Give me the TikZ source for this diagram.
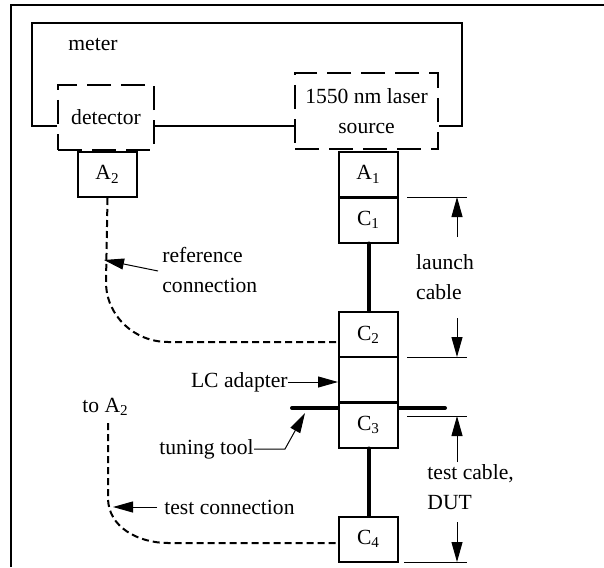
\documentclass[tikz,border=0pt]{standalone}
\usepackage{fontspec}
\setmainfont{Liberation Serif}
\usetikzlibrary{arrows.meta,calc}
\begin{document}
\begin{tikzpicture}[x=0.5pt,y=-0.5pt,
 every node/.style={font=\fontsize{10.8}{15}\selectfont, inner sep=0pt},
 port/.style={draw, line width=1pt, minimum width=29.5pt, minimum height=22.5pt},
 unitbox/.style={draw, line width=1.2pt, dash pattern=on 12pt off 5pt, align=center},
 frameline/.style={line width=1pt},
 conn/.style={line width=1pt, dash pattern=on 3.5pt off 2pt},
 cable/.style={line width=2pt, line cap=round},
 dimline/.style={line width=0.5pt},
 arr/.style={line width=0.5pt, -{Triangle[length=10pt,width=5.5pt]}},
]
\useasboundingbox (0,0) rectangle (604,567);
% outer frame
\draw[frameline] (11,567) -- (11,5) -- (604,5);

% units
\node[unitbox, minimum width=48pt, minimum height=32.5pt] (det) at (106,117.5) {detector};
\node[unitbox, minimum width=71.5pt, minimum height=38pt] (laser) at (366.5,111) {1550 nm laser\\source};

% meter outline
\coordinate (mb) at (0,126);
\draw[frameline] (det.west |- mb) -- (32,126) -- (32,23) -- (462,23) -- (462,126) -- (laser.east |- mb);
\draw[frameline] (det.east |- mb) -- (laser.west |- mb);
\node[anchor=west] (meter) at (68,45) {meter};

% ports
\node[port] (A2) at (107.5,174.5) {A\textsubscript{2}};
\node[port] (A1) at (368.5,174.5) {A\textsubscript{1}};
\node[port] (C1) at (368.5,220) {C\textsubscript{1}};
\node[port] (C2) at (368.5,334.5) {C\textsubscript{2}};
\node[port] (ad) at (368.5,379.5) {};
\node[port] (C3) at (368.5,425) {C\textsubscript{3}};
\node[port] (C4) at (368.5,539) {C\textsubscript{4}};

% cables
\draw[cable] (C1.south) -- (C2.north);
\draw[cable] (C3.south) -- (C4.north);

% tuning tool
\coordinate (tt) at (0,408);
\draw[cable] (292,408) -- (C3.west |- tt);
\draw[cable] (C3.east |- tt) -- (445,408);

% reference connection
\draw[conn] (A2.south) -- (106,282) to[out=-90,in=180] (168,342) -- (C2.west |- 0,342);
\node[anchor=west, align=left] (reflabel) at (162,270) {reference\\connection};
\draw[arr] (158,271) -- (104,260);

% test connection
\node[anchor=west] (toA2) at (82,407) {to A\textsubscript{2}};
\coordinate (tstart) at (108,423);
\draw[conn] (tstart) -- (108,498) to[out=-90,in=180] (168,543) -- (C4.west |- 0,543);
\node[anchor=west] (testlabel) at (164,507) {test connection};
\draw[arr] (157,507) -- (113,507);

% LC adapter
\node[anchor=east] (lclabel) at (288,382) {LC adapter};
\draw[arr] (lclabel.east) -- (ad.west |- lclabel.east);

% tuning tool label
\node[anchor=east] (ttlabel) at (254,449) {tuning tool};
\draw[arr] (ttlabel.east) -- (285,449) -- (305,413);

% launch cable dimension
\draw[dimline] (407,197) -- (467,197);
\draw[dimline] (407,357) -- (467,357);
\draw[arr] (457,237) -- (457,197);
\draw[arr] (457,318) -- (457,357);
\node[align=left] (launch) at (445,277) {launch\\cable};

% test cable dimension
\draw[dimline] (407,416) -- (467,416);
\draw[dimline] (404,562) -- (467,562);
\draw[arr] (457,462) -- (457,416);
\draw[arr] (457,522) -- (457,562);
\node[anchor=west, align=left] (tclabel) at (427,487) {test cable,\\DUT};
\end{tikzpicture}
\end{document}
